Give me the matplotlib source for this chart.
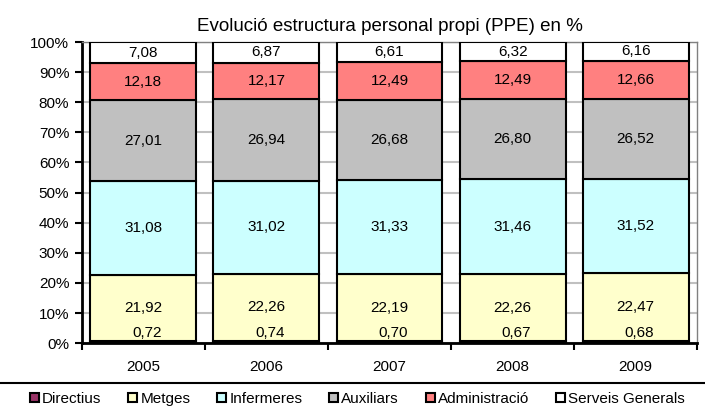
import matplotlib
matplotlib.use("Agg")
from matplotlib import pyplot as plt
from matplotlib.patches import Patch
import numpy as np

plt.rcParams['font.family'] = ['Liberation Sans', 'DejaVu Sans']

anys = ['2005', '2006', '2007', '2008', '2009']
categories = ['Directius', 'Metges', 'Infermeres', 'Auxiliars', 'Administració', 'Serveis Generals']
directius = [0.72, 0.74, 0.70, 0.67, 0.68]
metges = [21.92, 22.26, 22.19, 22.26, 22.47]
infermeres = [31.08, 31.02, 31.33, 31.46, 31.52]
auxiliars = [27.01, 26.94, 26.68, 26.80, 26.52]
administracio = [12.18, 12.17, 12.49, 12.49, 12.66]
serveis = [7.08, 6.87, 6.61, 6.32, 6.16]
colors = ['#993366', '#FFFFCC', '#CCFFFF', '#C0C0C0', '#FF8080', '#FFFFFF']

series = [directius, metges, infermeres, auxiliars, administracio, serveis]

fig = plt.figure(figsize=(7.05, 4.12), dpi=100)
ax = fig.add_axes([0.116, 0.167, 0.873, 0.731])

x = np.arange(len(anys))
base = np.zeros(len(anys))
for i, (vals, col) in enumerate(zip(series, colors)):
    vals = np.array(vals)
    ax.bar(x, vals, bottom=base, width=0.86, color=col, edgecolor='black',
           linewidth=1.5, zorder=3)
    for xi, b, v in zip(x, base, vals):
        txt = f'{v:.2f}'.replace('.', ',')
        if i == 0:
            ax.text(xi + 0.03, b + 3.4, txt, ha='center', va='center', fontsize=11, zorder=4)
        else:
            ax.text(xi, b + v / 2, txt, ha='center', va='center', fontsize=11, zorder=4)
    base = base + vals

ax.set_xlim(-0.5, len(anys) - 0.5)
ax.set_ylim(0, 100)
ax.set_yticks(np.arange(0, 101, 10))
ax.set_yticklabels([f'{v}%' for v in range(0, 101, 10)], fontsize=11)
ax.yaxis.grid(True, color='#C0C0C0', linewidth=1.5, zorder=0)
ax.set_xticks(x)
ax.set_xticklabels(anys, fontsize=11)
ax.tick_params(axis='x', length=0, pad=12)
ax.set_xticks(np.arange(-0.5, len(anys), 1), minor=True)
ax.tick_params(axis='x', which='minor', length=5, width=1.5, direction='out')
ax.tick_params(axis='y', length=5, width=1.5, direction='out', pad=4)

for s in ['top', 'right']:
    ax.spines[s].set_color('#808080')
    ax.spines[s].set_linewidth(1)
for s in ['left', 'bottom']:
    ax.spines[s].set_color('black')
    ax.spines[s].set_linewidth(2)

ax.set_title('Evolució estructura personal propi (PPE) en %', fontsize=13.5, pad=8)

# línia separadora de la llegenda
fig.add_artist(plt.Line2D([0, 1], [1 - 383 / 412, 1 - 383 / 412], color='black', linewidth=1.5))

handles = [Patch(facecolor=c, edgecolor='black', linewidth=1.5) for c in colors]
fig.legend(handles, categories, loc='center', bbox_to_anchor=(0.507, 1 - 399 / 412), ncol=6,
           frameon=False, fontsize=11, handlelength=0.6, handleheight=0.6,
           handletextpad=0.2, columnspacing=1.75)

fig.savefig('out.png', dpi=100)
